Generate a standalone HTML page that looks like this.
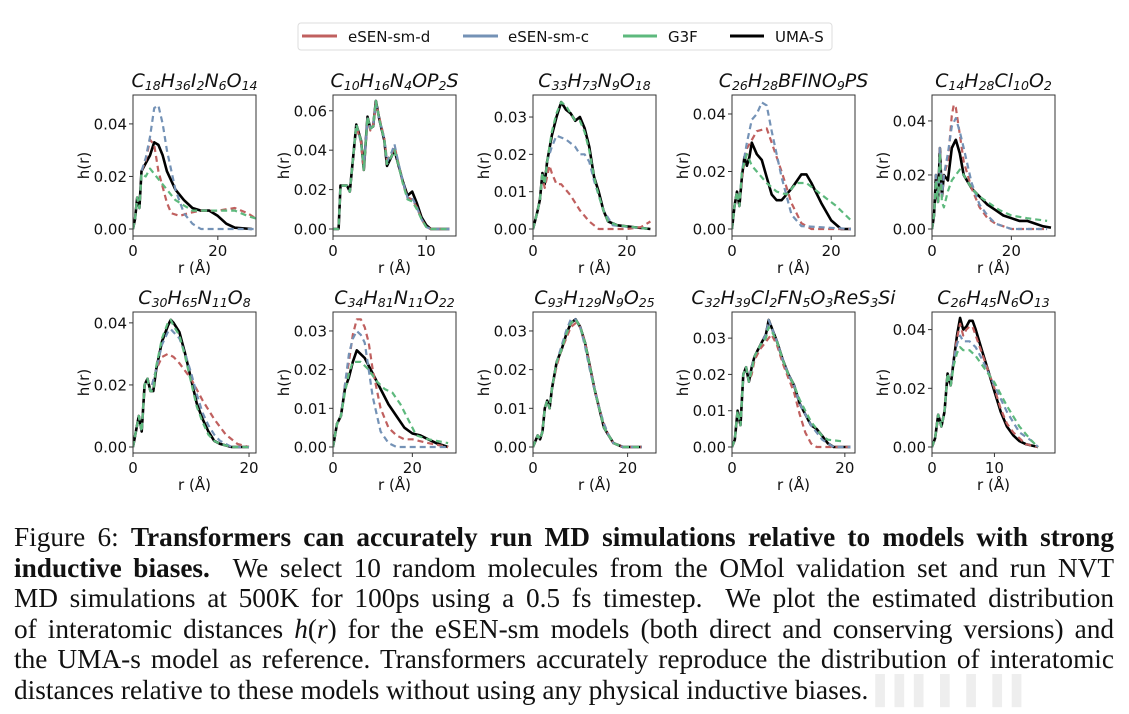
<!DOCTYPE html>
<html><head><meta charset="utf-8">
<style>
html,body{margin:0;padding:0;background:#fff;}
body{width:1129px;height:714px;position:relative;overflow:hidden;}
#fig{position:absolute;left:0;top:0;}
.ttl{position:absolute;font-family:"DejaVu Sans",sans-serif;font-style:italic;font-size:19px;white-space:nowrap;transform:translateX(-50%);color:#111;line-height:1;}
.ttl sub{font-size:12.5px;vertical-align:-3px;}
#caption{position:absolute;left:14px;top:522px;width:1100px;font-family:"Liberation Serif",serif;font-size:27.3px;line-height:30.5px;color:#111;}
.ln{display:block;text-align:justify;text-align-last:justify;white-space:nowrap;}
.ln.last{text-align-last:left;}
.wm{color:#eeeeee;}
</style></head><body>
<svg id="fig" width="1129" height="510" xmlns="http://www.w3.org/2000/svg">
  <g>
    <rect x="298" y="23" width="534" height="27" rx="3" fill="#fff" stroke="#ddd" stroke-width="1"/>
    <g><line x1="302" y1="36" x2="337" y2="36" stroke="#c0605f" stroke-width="3"/><text x="348" y="42" font-family="DejaVu Sans" font-size="15" fill="#111">eSEN-sm-d</text></g>
    <g><line x1="463" y1="36" x2="498" y2="36" stroke="#7492b6" stroke-width="3"/><text x="508" y="42" font-family="DejaVu Sans" font-size="15" fill="#111">eSEN-sm-c</text></g>
    <g><line x1="623" y1="36" x2="657" y2="36" stroke="#5db97d" stroke-width="3"/><text x="668" y="42" font-family="DejaVu Sans" font-size="15" fill="#111">G3F</text></g>
    <g><line x1="730" y1="36" x2="764" y2="36" stroke="#000" stroke-width="3"/><text x="775" y="42" font-family="DejaVu Sans" font-size="15" fill="#111">UMA-S</text></g>
  </g>
  <g id="panels"></g>
</svg>
<div id="titles"></div>
<div id="caption">
<span class="ln">Figure 6: <b>Transformers can accurately run MD simulations relative to models with strong</b></span>
<span class="ln"><b>inductive biases.</b>&nbsp; We select 10 random molecules from the OMol validation set and run NVT</span>
<span class="ln">MD simulations at 500K for 100ps using a 0.5 fs timestep.&nbsp; We plot the estimated distribution</span>
<span class="ln">of interatomic distances <i>h</i>(<i>r</i>) for the eSEN-sm models (both direct and conserving versions) and</span>
<span class="ln">the UMA-s model as reference. Transformers accurately reproduce the distribution of interatomic</span>
<span class="ln last">distances relative to these models without using any physical inductive biases. <span class="wm">▌▌▌ ▌ ▌ ▌▌</span></span>
</div>
<script>
// ---- data (r in Å, h(r)) ----
const p1_uma=[[0,0],[0.5,0.004],[1,0.012],[1.5,0.008],[2,0.022],[3,0.025],[4,0.028],[5,0.033],[6,0.032],[7,0.028],[8,0.022],[10,0.015],[12,0.011],[14,0.008],[16,0.007],[18,0.007],[20,0.005],[22,0.002],[24,0.0005],[28,0]];
const p1_d=[[0,0],[0.5,0.004],[1,0.012],[1.5,0.008],[2,0.022],[3,0.026],[4,0.034],[5,0.032],[6,0.022],[8,0.01],[9,0.006],[11,0.005],[13,0.006],[16,0.007],[20,0.007],[24,0.008],[27,0.006],[29,0.004]];
const p1_c=[[0,0],[0.5,0.004],[1,0.012],[1.5,0.008],[2,0.022],[3,0.027],[4,0.035],[5,0.046],[6,0.047],[7,0.04],[8,0.03],[10,0.015],[12,0.006],[14,0.002],[16,0],[29,0]];
const p1_g=[[0,0],[0.5,0.004],[1,0.012],[1.5,0.008],[2,0.021],[3,0.02],[4,0.023],[5,0.021],[6,0.019],[8,0.015],[10,0.011],[12,0.009],[14,0.007],[17,0.007],[20,0.007],[24,0.007],[27,0.005],[29,0.004]];

const p2_uma=[[0,0],[0.6,0],[0.8,0.022],[1.5,0.022],[1.8,0.019],[2.5,0.053],[3,0.045],[3.3,0.03],[3.7,0.057],[4,0.051],[4.3,0.052],[4.6,0.065],[5,0.055],[5.5,0.045],[5.8,0.032],[6.3,0.037],[6.6,0.04],[7,0.033],[7.5,0.024],[8,0.017],[8.5,0.019],[9,0.013],[9.5,0.006],[10,0.002],[10.5,0],[12.5,0]];
const p2_d=[[0,0],[0.6,0],[0.8,0.022],[1.5,0.022],[1.8,0.019],[2.5,0.052],[3,0.044],[3.3,0.03],[3.7,0.056],[4,0.05],[4.3,0.053],[4.6,0.064],[5,0.056],[5.5,0.046],[5.8,0.035],[6.3,0.038],[6.6,0.042],[7,0.034],[7.5,0.023],[8,0.016],[8.5,0.015],[9,0.011],[9.5,0.005],[10,0.001],[10.5,0],[12.5,0]];
const p2_c=[[0,0],[0.6,0],[0.8,0.022],[1.5,0.022],[1.8,0.019],[2.5,0.053],[3,0.044],[3.3,0.031],[3.7,0.056],[4,0.051],[4.3,0.052],[4.6,0.064],[5,0.055],[5.5,0.046],[5.8,0.034],[6.3,0.039],[6.6,0.043],[7,0.034],[7.5,0.024],[8,0.016],[8.5,0.016],[9,0.011],[9.5,0.005],[10,0.001],[10.5,0],[12.5,0]];
const p2_g=[[0,0],[0.6,0],[0.8,0.022],[1.5,0.022],[1.8,0.019],[2.5,0.053],[3,0.045],[3.3,0.03],[3.7,0.057],[4,0.051],[4.3,0.052],[4.6,0.065],[5,0.055],[5.5,0.045],[5.8,0.033],[6.3,0.037],[6.6,0.04],[7,0.033],[7.5,0.023],[8,0.015],[8.5,0.014],[9,0.01],[9.5,0.005],[10,0.001],[10.5,0],[12.5,0]];

const p3_uma=[[0,0],[1,0.005],[1.5,0.008],[2,0.015],[2.5,0.012],[3,0.018],[4,0.025],[5,0.03],[6,0.034],[7,0.032],[8,0.031],[9,0.029],[10,0.03],[11,0.027],[12,0.022],[13,0.014],[14,0.01],[15,0.005],[16,0.002],[18,0.001],[25,0]];
const p3_d=[[0,0],[1,0.005],[1.5,0.008],[2,0.014],[2.5,0.011],[3,0.014],[3.5,0.017],[4,0.015],[5,0.012],[6,0.012],[8,0.009],[10,0.005],[12,0.002],[14,0],[20,0],[23,0.0005],[25,0.002]];
const p3_c=[[0,0],[1,0.005],[1.5,0.008],[2,0.015],[2.5,0.012],[3,0.018],[4,0.022],[5,0.025],[7,0.024],[9,0.022],[10,0.02],[11,0.02],[12,0.018],[13,0.013],[15,0.005],[17,0.001],[25,0]];
const p3_g=[[0,0],[1,0.005],[1.5,0.008],[2,0.015],[2.5,0.012],[3,0.018],[4,0.026],[5,0.031],[6,0.034],[7,0.033],[8,0.031],[9,0.029],[10,0.029],[11,0.026],[12,0.021],[13,0.014],[14,0.009],[15,0.005],[16,0.002],[18,0.001],[25,0]];

const p4_uma=[[0,0],[0.5,0.008],[1,0.013],[1.5,0.008],[2,0.018],[2.5,0.025],[3,0.022],[3.5,0.025],[4,0.03],[5,0.026],[6,0.024],[7,0.018],[8,0.012],[9,0.01],[10,0.01],[12,0.014],[14,0.019],[15,0.019],[16,0.016],[18,0.009],[20,0.003],[22,0],[24,0]];
const p4_d=[[0,0],[0.5,0.008],[1,0.013],[1.5,0.008],[2,0.018],[3,0.028],[4,0.031],[5,0.034],[7,0.035],[8,0.03],[10,0.02],[12,0.009],[14,0.002],[16,0],[24,0]];
const p4_c=[[0,0],[0.5,0.008],[1,0.013],[1.5,0.008],[2,0.02],[3,0.03],[4,0.038],[5,0.04],[6,0.044],[7,0.043],[8,0.034],[10,0.018],[12,0.005],[14,0.001],[24,0]];
const p4_g=[[0,0],[0.5,0.008],[1,0.013],[1.5,0.008],[2,0.02],[3,0.026],[4,0.022],[5,0.02],[7,0.016],[9,0.013],[11,0.012],[13,0.016],[15,0.016],[18,0.012],[21,0.008],[24,0.003]];

const p5_uma=[[0,0],[0.5,0.005],[1,0.02],[1.5,0.01],[2,0.03],[2.5,0.012],[3,0.02],[4,0.018],[5,0.03],[6,0.033],[7,0.028],[8,0.02],[10,0.015],[12,0.012],[14,0.009],[16,0.007],[18,0.005],[20,0.004],[22,0.003],[24,0.003],[26,0.002],[28,0.001],[30,0.0005]];
const p5_d=[[0,0],[0.5,0.005],[1,0.02],[1.5,0.01],[2,0.03],[2.5,0.012],[3,0.02],[4,0.025],[5,0.042],[5.5,0.046],[6,0.045],[7,0.035],[8,0.025],[10,0.015],[12,0.008],[14,0.004],[16,0.002],[18,0.001],[20,0],[29,0]];
const p5_c=[[0,0],[0.5,0.005],[1,0.02],[1.5,0.01],[2,0.03],[2.5,0.012],[3,0.02],[4,0.028],[5,0.038],[6,0.041],[7,0.036],[8,0.03],[10,0.017],[12,0.009],[14,0.005],[16,0.002],[18,0.001],[20,0],[29,0]];
const p5_g=[[0,0],[0.5,0.005],[1,0.018],[1.5,0.01],[2,0.028],[2.5,0.01],[3,0.008],[4,0.014],[5,0.018],[6,0.02],[7,0.022],[8,0.02],[10,0.015],[12,0.012],[14,0.01],[17,0.007],[20,0.005],[24,0.004],[29,0.003]];

const p6_uma=[[0,0],[0.5,0.005],[1,0.01],[1.5,0.005],[2,0.02],[2.5,0.022],[3,0.018],[3.5,0.018],[4,0.025],[5,0.034],[6,0.039],[6.5,0.041],[7,0.04],[8,0.037],[9,0.03],[10,0.022],[11,0.014],[12,0.009],[13,0.005],[14,0.002],[15,0.001],[17,0],[20,0]];
const p6_d=[[0,0],[0.5,0.005],[1,0.01],[1.5,0.005],[2,0.02],[2.5,0.022],[3,0.018],[4,0.025],[5,0.029],[6,0.03],[7,0.029],[8,0.027],[10,0.022],[12,0.015],[14,0.009],[16,0.004],[18,0.001],[20,0]];
const p6_c=[[0,0],[0.5,0.005],[1,0.01],[1.5,0.005],[2,0.02],[2.5,0.022],[3,0.018],[4,0.025],[5,0.033],[6,0.037],[6.5,0.038],[7,0.037],[8,0.035],[9,0.03],[10,0.024],[11,0.017],[12,0.011],[13,0.007],[14,0.004],[15,0.002],[17,0],[20,0]];
const p6_g=[[0,0],[0.5,0.005],[1,0.01],[1.5,0.005],[2,0.02],[2.5,0.022],[3,0.018],[3.5,0.018],[4,0.026],[5,0.035],[6,0.04],[6.5,0.041],[7,0.039],[8,0.036],[9,0.029],[10,0.021],[11,0.013],[12,0.008],[13,0.004],[14,0.002],[15,0.001],[17,0],[20,0]];

const p7_uma=[[0,0],[1,0.006],[2,0.008],[3,0.015],[4,0.018],[5,0.022],[6,0.025],[7,0.024],[8,0.023],[10,0.019],[12,0.015],[14,0.011],[16,0.008],[18,0.005],[20,0.0035],[22,0.003],[24,0.002],[26,0.001],[29,0]];
const p7_d=[[0,0],[1,0.006],[2,0.008],[3,0.016],[4,0.022],[5,0.029],[6,0.033],[7,0.033],[8,0.031],[9,0.027],[10,0.02],[12,0.01],[14,0.005],[16,0.003],[18,0.002],[20,0.002],[24,0.001],[29,0]];
const p7_c=[[0,0],[1,0.006],[2,0.008],[3,0.016],[4,0.024],[5,0.028],[6,0.03],[7,0.029],[8,0.027],[9,0.02],[10,0.013],[12,0.004],[14,0.001],[16,0],[29,0]];
const p7_g=[[0,0],[1,0.006],[2,0.008],[3,0.014],[4,0.019],[5,0.022],[7,0.022],[9,0.02],[11,0.017],[13,0.015],[15,0.014],[17,0.011],[19,0.007],[21,0.003],[24,0.002],[29,0.001]];

const p8_uma=[[0,0],[1,0.003],[1.5,0.002],[2,0.004],[2.5,0.01],[3,0.012],[3.5,0.01],[4,0.015],[5,0.022],[6,0.025],[7,0.029],[8,0.032],[9,0.033],[10,0.031],[11,0.027],[12,0.021],[13,0.015],[14,0.01],[15,0.005],[16,0.003],[17,0.001],[19,0],[23,0]];
const p8_d=[[0,0],[1,0.003],[1.5,0.002],[2,0.004],[2.5,0.01],[3,0.012],[3.5,0.01],[4,0.015],[5,0.021],[6,0.025],[7,0.028],[8,0.031],[9,0.032],[10,0.031],[11,0.027],[12,0.021],[13,0.015],[14,0.01],[15,0.006],[16,0.003],[17,0.001],[19,0],[23,0]];
const p8_c=[[0,0],[1,0.003],[1.5,0.002],[2,0.004],[2.5,0.01],[3,0.012],[3.5,0.01],[4,0.015],[5,0.022],[6,0.026],[7,0.03],[8,0.033],[9,0.033],[10,0.031],[11,0.026],[12,0.02],[13,0.015],[14,0.01],[15,0.006],[16,0.003],[17,0.001],[19,0],[23,0]];
const p8_g=[[0,0],[1,0.003],[1.5,0.002],[2,0.004],[2.5,0.01],[3,0.012],[3.5,0.01],[4,0.015],[5,0.022],[6,0.025],[7,0.029],[8,0.032],[9,0.033],[10,0.031],[11,0.027],[12,0.021],[13,0.015],[14,0.01],[15,0.005],[16,0.003],[17,0.001],[19,0],[23,0]];

const p9_uma=[[0,0],[0.5,0.002],[1,0.01],[1.5,0.006],[2,0.02],[2.5,0.022],[3,0.018],[3.5,0.022],[4,0.025],[5,0.028],[6,0.031],[6.5,0.035],[7,0.033],[8,0.029],[9,0.024],[10,0.02],[11,0.017],[12,0.012],[13,0.009],[14,0.006],[15,0.005],[16,0.003],[17,0.001],[18,0],[21,0]];
const p9_d=[[0,0],[0.5,0.002],[1,0.01],[1.5,0.006],[2,0.02],[2.5,0.022],[3,0.018],[3.5,0.02],[4,0.024],[5,0.027],[6,0.029],[6.5,0.03],[7,0.031],[8,0.028],[9,0.023],[10,0.019],[11,0.015],[12,0.009],[13,0.004],[14,0.001],[15,0],[21,0]];
const p9_c=[[0,0],[0.5,0.002],[1,0.01],[1.5,0.006],[2,0.02],[2.5,0.022],[3,0.018],[3.5,0.022],[4,0.025],[5,0.028],[6,0.031],[6.5,0.035],[7,0.033],[8,0.029],[9,0.024],[10,0.02],[11,0.017],[12,0.012],[13,0.009],[14,0.006],[15,0.004],[16,0.002],[17,0.001],[18,0],[21,0]];
const p9_g=[[0,0],[0.5,0.002],[1,0.01],[1.5,0.006],[2,0.02],[2.5,0.022],[3,0.018],[3.5,0.021],[4,0.025],[5,0.028],[6,0.03],[6.5,0.033],[7,0.032],[8,0.029],[9,0.024],[10,0.02],[11,0.017],[12,0.013],[13,0.01],[14,0.007],[15,0.005],[16,0.003],[17,0.002],[20,0.0015]];

const p10_uma=[[0,0],[0.5,0.003],[1,0.011],[1.5,0.007],[2,0.012],[2.5,0.025],[3,0.021],[3.5,0.03],[4,0.038],[4.5,0.044],[5,0.04],[5.5,0.041],[6,0.043],[6.5,0.043],[7,0.04],[8,0.033],[9,0.026],[10,0.019],[11,0.012],[12,0.007],[13,0.004],[14,0.002],[15,0.001],[17,0]];
const p10_d=[[0,0],[0.5,0.003],[1,0.011],[1.5,0.007],[2,0.012],[2.5,0.025],[3,0.021],[3.5,0.03],[4,0.037],[4.5,0.042],[5,0.038],[5.5,0.04],[6,0.041],[6.5,0.041],[7,0.038],[8,0.032],[9,0.026],[10,0.02],[11,0.013],[12,0.008],[13,0.005],[14,0.003],[15,0.001],[17,0]];
const p10_c=[[0,0],[0.5,0.003],[1,0.011],[1.5,0.007],[2,0.012],[2.5,0.025],[3,0.021],[3.5,0.03],[4,0.035],[4.5,0.038],[5,0.036],[6,0.036],[7,0.034],[8,0.03],[10,0.021],[12,0.012],[14,0.005],[16,0.002],[17,0]];
const p10_g=[[0,0],[0.5,0.003],[1,0.011],[1.5,0.007],[2,0.012],[2.5,0.025],[3,0.021],[3.5,0.028],[4,0.032],[4.5,0.034],[5,0.033],[6,0.033],[7,0.031],[8,0.028],[10,0.022],[12,0.014],[14,0.007],[16,0.002],[17,0]];

const panelTitles=[
 'C<sub>18</sub>H<sub>36</sub>I<sub>2</sub>N<sub>6</sub>O<sub>14</sub>',
 'C<sub>10</sub>H<sub>16</sub>N<sub>4</sub>OP<sub>2</sub>S',
 'C<sub>33</sub>H<sub>73</sub>N<sub>9</sub>O<sub>18</sub>',
 'C<sub>26</sub>H<sub>28</sub>BFINO<sub>9</sub>PS',
 'C<sub>14</sub>H<sub>28</sub>Cl<sub>10</sub>O<sub>2</sub>',
 'C<sub>30</sub>H<sub>65</sub>N<sub>11</sub>O<sub>8</sub>',
 'C<sub>34</sub>H<sub>81</sub>N<sub>11</sub>O<sub>22</sub>',
 'C<sub>93</sub>H<sub>129</sub>N<sub>9</sub>O<sub>25</sub>',
 'C<sub>32</sub>H<sub>39</sub>Cl<sub>2</sub>FN<sub>5</sub>O<sub>3</sub>ReS<sub>3</sub>Si',
 'C<sub>26</sub>H<sub>45</sub>N<sub>6</sub>O<sub>13</sub>'];
const yTicks=[[0,0.02,0.04],[0,0.02,0.04,0.06],[0,0.01,0.02,0.03],[0,0.02,0.04],[0,0.02,0.04],[0,0.02,0.04],[0,0.01,0.02,0.03],[0,0.01,0.02,0.03],[0,0.01,0.02,0.03],[0,0.02,0.04]];
const xTicks=[[0,20],[0,10],[0,20],[0,20],[0,20],[0,20],[0,20],[0,20],[0,20],[0,10]];
const xMax=[29,13.2,26.2,24.8,31,21.2,31,26,21.8,19.7];
const yMax=[0.051,0.068,0.0359,0.0466,0.0496,0.0435,0.0349,0.0349,0.0372,0.046];
const seriesUma=[p1_uma,p2_uma,p3_uma,p4_uma,p5_uma,p6_uma,p7_uma,p8_uma,p9_uma,p10_uma];
const seriesD=[p1_d,p2_d,p3_d,p4_d,p5_d,p6_d,p7_d,p8_d,p9_d,p10_d];
const seriesC=[p1_c,p2_c,p3_c,p4_c,p5_c,p6_c,p7_c,p8_c,p9_c,p10_c];
const seriesG=[p1_g,p2_g,p3_g,p4_g,p5_g,p6_g,p7_g,p8_g,p9_g,p10_g];

const NS='http://www.w3.org/2000/svg';
const root=document.getElementById('panels');
const titles=document.getElementById('titles');
function mk(tag,attrs,parent){const e=document.createElementNS(NS,tag);for(const k in attrs)e.setAttribute(k,attrs[k]);parent.appendChild(e);return e;}

for(let i=0;i<10;i++){
  const row=Math.floor(i/5),col=i%5;
  const L=133+col*200-(col>=3?1:0), W=123;
  const zeroY=row?447:229, T=row?312:95, B=row?453:236;
  const pxPerY=(zeroY-T)/yMax[i];
  const X=v=>L+v/xMax[i]*W;
  const Y=v=>zeroY-v*pxPerY;
  const g=mk('g',{},root);
  
  
  const cp=mk('clipPath',{id:'cp'+i},g);
  mk('rect',{x:L,y:T,width:W,height:B-T},cp);
  const defs=[[seriesUma[i],'#000',2.6,null,'uma-s'],[seriesD[i],'#c0605f',2.2,'6,4','esen-sm-d'],[seriesC[i],'#7492b6',2.2,'6,4','esen-sm-c'],[seriesG[i],'#5db97d',2.2,'6,4','g3f']];
  for(const [s,col_,w,dash,nm] of defs){
    const d=s.map((p,k)=>(k?'L':'M')+X(p[0]).toFixed(1)+','+Y(p[1]).toFixed(1)).join('');
    const a={d:d,fill:'none',stroke:col_,'stroke-width':w,'stroke-linejoin':'round','clip-path':'url(#cp'+i+')'};
    if(dash)a['stroke-dasharray']=dash;
    const p=mk('path',a,g);
    
    
  }
  const frame=mk('rect',{x:L,y:T,width:W,height:B-T,fill:'none',stroke:'#333','stroke-width':1},g);
  
  
  for(const t of yTicks[i]){
    const y=Y(t);
    mk('line',{x1:L-4,y1:y,x2:L,y2:y,stroke:'#333','stroke-width':1},g);
    const tx=mk('text',{x:L-6,y:y+5.5,'text-anchor':'end','font-family':'DejaVu Sans','font-size':15,fill:'#111'},g);
    tx.textContent=t.toFixed(2);
    
    
  }
  for(const t of xTicks[i]){
    const x=X(t);
    mk('line',{x1:x,y1:B,x2:x,y2:B+4,stroke:'#333','stroke-width':1},g);
    const tx=mk('text',{x:x,y:B+20,'text-anchor':'middle','font-family':'DejaVu Sans','font-size':15,fill:'#111'},g);
    tx.textContent=String(t);
    
    
  }
  const xl=mk('text',{x:L+W/2,y:B+37,'text-anchor':'middle','font-family':'DejaVu Sans','font-size':15,fill:'#111'},g);
  xl.textContent='r (Å)';
  
  
  const yc=(T+B)/2, yx=L-44;
  const yl=mk('text',{x:yx,y:yc,'text-anchor':'middle','font-family':'DejaVu Sans','font-size':15,fill:'#111',transform:'rotate(-90 '+yx+' '+yc+')'},g);
  yl.textContent='h(r)';
  
  
  const d=document.createElement('div');
  d.className='ttl';
  d.style.left=(L+W/2)+'px';
  d.style.top=(T-23)+'px';
  d.innerHTML=panelTitles[i];
  
  
  titles.appendChild(d);
}
</script>
</body></html>
